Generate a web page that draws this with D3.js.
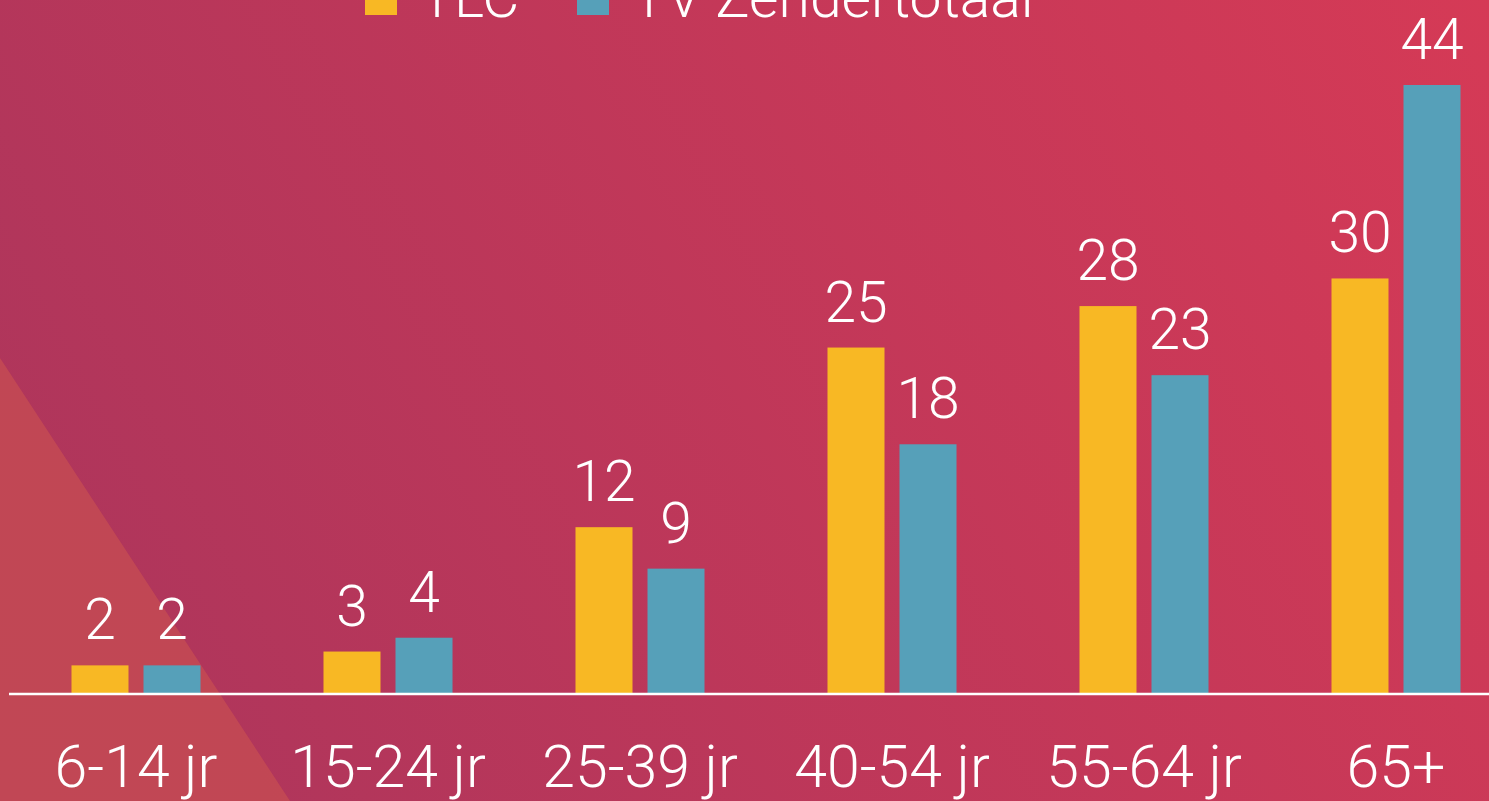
<!DOCTYPE html>
<html>
<head>
<meta charset="utf-8">
<script src="https://cdn.jsdelivr.net/npm/d3@7"></script>
<style>
  html, body { margin: 0; padding: 0; overflow: hidden; }
  svg { display: block; font-family: Roboto, "Noto Sans", sans-serif; font-weight: 300; }
</style>
</head>
<body>
<div id="chart"></div>
<script>
// Svg dimensions
var svgWidth = 1489;
var svgHeight = 801;

// Data
var categories = ["6-14 jr", "15-24 jr", "25-39 jr", "40-54 jr", "55-64 jr", "65+"];
var seriesNames = ["TLC", "TV Zendertotaal"];
var tlcValues = [2, 3, 12, 25, 28, 30];
var totaalValues = [2, 4, 9, 18, 23, 44];
var seriesColors = ["#f8b824", "#56a0b9"];

var rows = categories.map(function(c, i) {
    return { cat: c, values: [tlcValues[i], totaalValues[i]] };
});

var svg = d3.select("#chart")
    .append("svg")
    .attr("width", svgWidth)
    .attr("height", svgHeight);

// Background gradient
var defs = svg.append("defs");
var grad = defs.append("linearGradient")
    .attr("id", "bg")
    .attr("gradientUnits", "userSpaceOnUse")
    .attr("x1", 0).attr("y1", svgHeight)
    .attr("x2", svgWidth).attr("y2", 0);
grad.append("stop").attr("offset", "0%").attr("stop-color", "#ab355c");
grad.append("stop").attr("offset", "100%").attr("stop-color", "#d53a56");

svg.append("rect")
    .attr("width", svgWidth)
    .attr("height", svgHeight)
    .attr("fill", "url(#bg)");

// Lighter triangle bottom-left
svg.append("path")
    .attr("d", "M0,358 L290,801 L0,801 Z")
    .attr("fill", "#c44a54")
    .attr("opacity", 0.85);

// Scales
var baseY = 693;
var x0 = d3.scaleBand()
    .domain(categories)
    .range([10, 1522])
    .paddingInner(0.488)
    .paddingOuter(0.244);

var x1 = d3.scaleBand()
    .domain(seriesNames)
    .range([0, x0.bandwidth()])
    .paddingInner(15 / 72);

var y = d3.scaleLinear()
    .domain([0, 44])
    .range([baseY, 85]);

// Bars
var groups = svg.selectAll(".group")
    .data(rows)
    .enter()
    .append("g")
    .attr("class", "group")
    .attr("transform", d => `translate(${x0(d.cat)}, 0)`);

groups.selectAll("rect")
    .data(d => d.values.map((v, i) => ({ name: seriesNames[i], value: v, i: i })))
    .enter()
    .append("rect")
    .attr("x", d => x1(d.name))
    .attr("y", d => y(d.value))
    .attr("width", x1.bandwidth())
    .attr("height", d => baseY - y(d.value))
    .attr("fill", d => seriesColors[d.i]);

// Value labels
groups.selectAll(".val")
    .data(d => d.values.map((v, i) => ({ name: seriesNames[i], value: v })))
    .enter()
    .append("text")
    .attr("class", "val")
    .attr("x", d => x1(d.name) + x1.bandwidth() / 2)
    .attr("y", d => y(d.value) - 26)
    .attr("text-anchor", "middle")
    .attr("font-size", "57px")
    .attr("fill", "#fff")
    .text(d => d.value);

// Baseline axis
var xAxis = svg.append("g")
    .attr("transform", `translate(0, ${baseY + 1})`)
    .call(d3.axisBottom(x0).tickSize(0).tickPadding(93));

xAxis.select(".domain")
    .attr("d", "M9,0H1489")
    .attr("stroke", "#fff")
    .attr("stroke-width", 2.5);

xAxis.selectAll("text")
    .attr("font-size", "59px")
    .attr("font-family", "Roboto, 'Noto Sans', sans-serif")
    .attr("font-weight", 300)
    .attr("fill", "#fff")
    .attr("dy", 0);

// Legend
var legendX = [365, 577];
var legend = svg.selectAll(".legend")
    .data(seriesNames)
    .enter()
    .append("g")
    .attr("class", "legend")
    .attr("transform", (d, i) => `translate(${legendX[i]}, 0)`);

legend.append("rect")
    .attr("x", 0)
    .attr("y", -17)
    .attr("width", 32)
    .attr("height", 32)
    .attr("fill", (d, i) => seriesColors[i]);

legend.append("text")
    .attr("x", 55)
    .attr("y", 17)
    .attr("font-size", "57px")
    .attr("fill", "#fff")
    .text(d => d);
</script>
</body>
</html>
